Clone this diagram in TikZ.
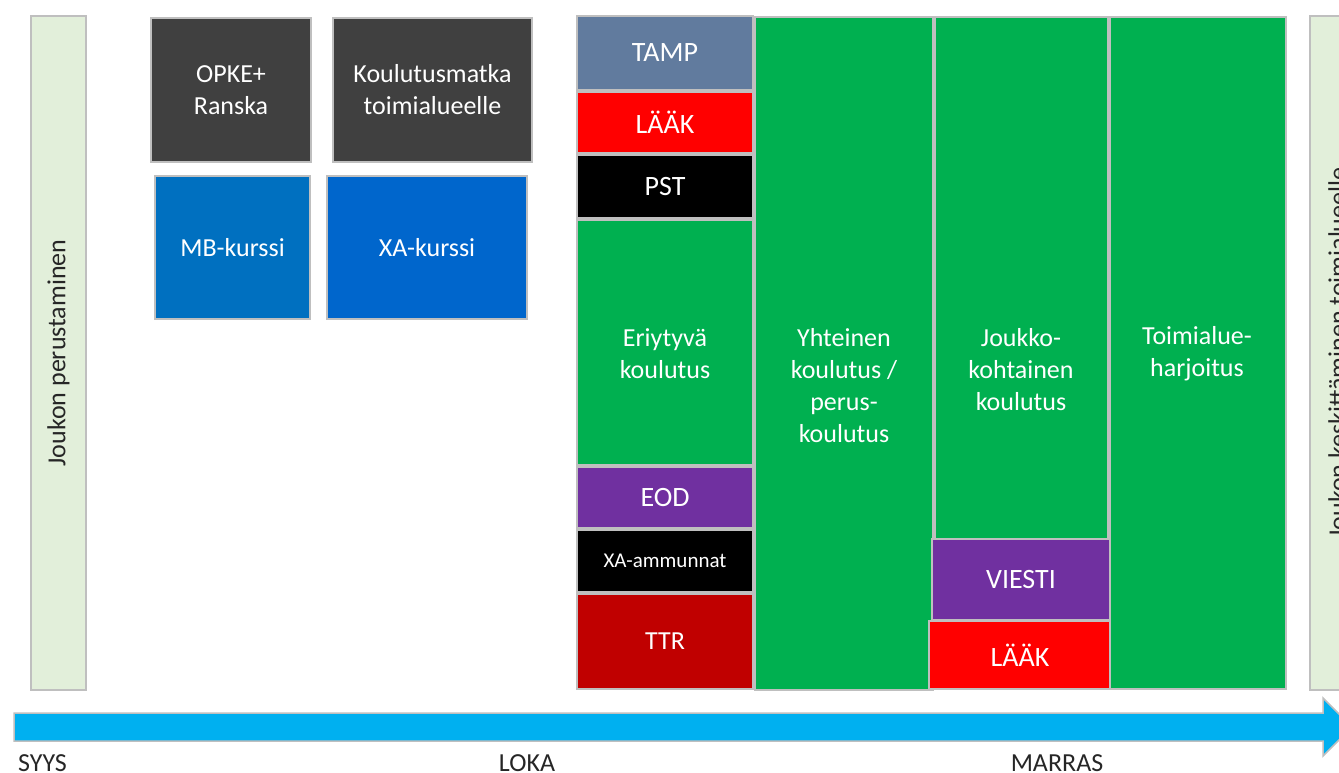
\documentclass[tikz,border=0pt]{standalone}
\usepackage{fontspec}
\setmainfont{Carlito}
\usetikzlibrary{positioning}

\definecolor{barbg}{RGB}{226,239,218}
\definecolor{edgegray}{RGB}{191,191,191}
\definecolor{darkbox}{RGB}{64,64,64}
\definecolor{mbblue}{RGB}{0,112,192}
\definecolor{xablue}{RGB}{0,102,204}
\definecolor{tampblue}{RGB}{97,123,158}
\definecolor{laakred}{RGB}{255,0,0}
\definecolor{ttrred}{RGB}{192,0,0}
\definecolor{eodpurple}{RGB}{112,48,160}
\definecolor{kgreen}{RGB}{0,176,80}
\definecolor{timeline}{RGB}{0,176,240}
\definecolor{labeltext}{RGB}{38,38,38}

\begin{document}
\begin{tikzpicture}[x=1pt,y=-1pt,
    box/.style={draw=edgegray,line width=1.5pt,inner sep=0pt,outer sep=0pt,text=white,align=center,
      font=\fontsize{26}{32}\selectfont},
    big/.style={font=\fontsize{28}{34}\selectfont},
    lbl/.style={text=white,align=center,font=\fontsize{26}{32}\selectfont},
    month/.style={text=labeltext,inner sep=0pt,font=\fontsize{26}{32}\selectfont}]
\useasboundingbox (0,0) rectangle (1339,773);

% side bars
\node[box,fill=barbg,minimum width=55pt,minimum height=674pt] (startbar) at (58.5,353) {};
\node[rotate=90,text=labeltext,font=\fontsize{26}{32}\selectfont] (starttxt) at (startbar.center) {Joukon perustaminen};
\node[box,fill=barbg,minimum width=55pt,minimum height=674pt] (endbar) at (1337.5,353) {};
\node[rotate=90,text=labeltext,font=\fontsize{26}{32}\selectfont] (endtxt) at (endbar.center) {Joukon keskittäminen toimialueelle};

% courses
\node[box,fill=darkbox,minimum width=160pt,minimum height=144pt] (opke) at (231,90) {OPKE+\\Ranska};
\node[box,fill=darkbox,minimum width=199pt,minimum height=144pt] (matka) at (432.5,90) {Koulutusmatka\\toimialueelle};
\node[box,fill=mbblue,minimum width=155pt,minimum height=143pt] (mb) at (232.5,247.5) {MB-kurssi};
\node[box,fill=xablue,minimum width=200pt,minimum height=143pt] (xa) at (427,247.5) {XA-kurssi};

% first column
\node[box,big,fill=tampblue,minimum width=176pt,minimum height=74pt] (tamp) at (665,53) {TAMP};
\node[box,big,fill=laakred,minimum width=176pt,minimum height=61pt,below=2pt of tamp] (laak) {LÄÄK};
\node[box,big,fill=black,minimum width=176pt,minimum height=63pt,below=2pt of laak] (pst) {PST};
\node[box,fill=kgreen,minimum width=176pt,minimum height=245pt,below=2pt of pst] (eri) {};
\node[box,big,fill=eodpurple,minimum width=176pt,minimum height=61pt,below=2pt of eri] (eod) {EOD};
\node[box,fill=black,minimum width=176pt,minimum height=62pt,below=2pt of eod,
  font=\fontsize{21}{26}\selectfont] (xaamm) {XA-ammunnat};
\node[box,fill=ttrred,minimum width=176pt,minimum height=95pt,below=2pt of xaamm] (ttr) {TTR};
\node[lbl] (eritxt) at (665,354) {Eriytyvä\\koulutus};

% later columns
\node[box,fill=kgreen,minimum width=178pt,minimum height=673pt] (yht) at (844,353.5) {};
\node[lbl] (yhttxt) at (844,386) {Yhteinen\\koulutus /\\perus-\\koulutus};
\node[box,fill=kgreen,minimum width=173pt,minimum height=522pt] (jouk) at (1021.5,278) {};
\node[lbl] (jouktxt) at (1021,370) {Joukko-\\kohtainen\\koulutus};
\node[box,big,fill=eodpurple,minimum width=178pt,minimum height=81pt] (viesti) at (1021,579.5) {VIESTI};
\node[box,big,fill=laakred,minimum width=182pt,minimum height=68pt] (laak2) at (1020,655) {LÄÄK};
\node[box,fill=kgreen,minimum width=176pt,minimum height=672pt] (harj) at (1198,353) {};
\node[lbl] (harjtxt) at (1197,354) {Toimialue-\\harjoitus};

% time axis
\draw[draw=edgegray,fill=timeline,line width=1.5pt] (14,713) -- (1323,713) -- (1323,698)
  -- (1352,727) -- (1323,756) -- (1323,741) -- (14,741) -- cycle;
\node[month,anchor=base west] (syys) at (18,771) {SYYS};
\node[month,anchor=base] (loka) at (527,771) {LOKA};
\node[month,anchor=base] (marras) at (1057,771) {MARRAS};
\end{tikzpicture}
\end{document}
